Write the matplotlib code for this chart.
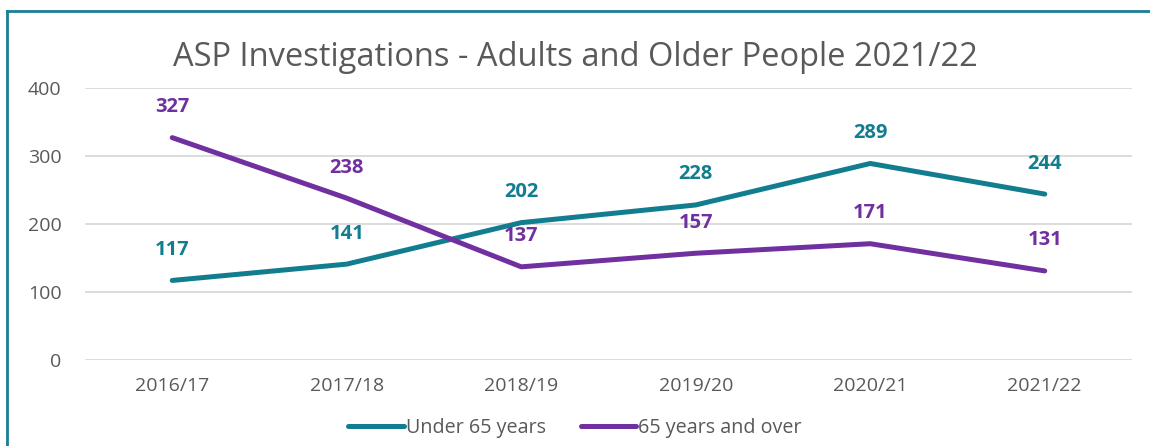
import matplotlib.pyplot as plt
from matplotlib.lines import Line2D

years = ["2016/17", "2017/18", "2018/19", "2019/20", "2020/21", "2021/22"]
under_65 = [117, 141, 202, 228, 289, 244]
over_65 = [327, 238, 137, 157, 171, 131]

teal = "#137D90"
purple = "#7030A0"
grey = "#595959"

plt.rcParams['font.family'] = ['Open Sans', 'DejaVu Sans']

fig = plt.figure(figsize=(11.5, 4.46), dpi=100)
ax = fig.add_axes([85 / 1150, 1 - 360 / 446, 1047 / 1150, 272 / 446])

x = list(range(len(years)))
ax.plot(x, under_65, color=teal, lw=3.6, solid_capstyle="round", label="Under 65 years")
ax.plot(x, over_65, color=purple, lw=3.6, solid_capstyle="round", label="65 years and over")

# data labels sit above each point
for xi, v in zip(x, under_65):
    ax.annotate(str(v), (xi, v), xytext=(0, 22), textcoords="offset points",
                ha="center", va="center", color=teal, fontsize=14.5, fontweight="bold")
for xi, v in zip(x, over_65):
    ax.annotate(str(v), (xi, v), xytext=(0, 22), textcoords="offset points",
                ha="center", va="center", color=purple, fontsize=14.5, fontweight="bold")

ax.set_xlim(-0.5, 5.5)
ax.set_ylim(0, 400)
ax.set_yticks([0, 100, 200, 300, 400])
ax.set_xticks(x)
ax.set_xticklabels(years)
ax.grid(axis="y", color="#D9D9D9", lw=1.3)
ax.set_axisbelow(True)
for s in ax.spines.values():
    s.set_visible(False)
ax.tick_params(length=0, colors=grey, labelsize=14)
ax.tick_params(axis="x", pad=12)
ax.tick_params(axis="y", pad=17)

fig.text(0.5, 1 - 57 / 446, "ASP Investigations - Adults and Older People 2021/22",
         ha="center", va="center", fontsize=23.5, color=grey)

fig.legend(loc="center", bbox_to_anchor=(0.5, 1 - 428 / 446), ncol=2, frameon=False,
           fontsize=14.2, labelcolor=grey, handlelength=2.8, handletextpad=0.1,
           columnspacing=1.8)

# chart border (top and left edges visible)
fig.add_artist(Line2D([7 / 1150, 7 / 1150], [0, 1 - 11 / 446], color="#1A7F94", lw=2,
                      transform=fig.transFigure))
fig.add_artist(Line2D([7 / 1150, 1], [1 - 11 / 446, 1 - 11 / 446], color="#1A7F94", lw=2,
                      transform=fig.transFigure))

fig.savefig("out.png", dpi=100)
